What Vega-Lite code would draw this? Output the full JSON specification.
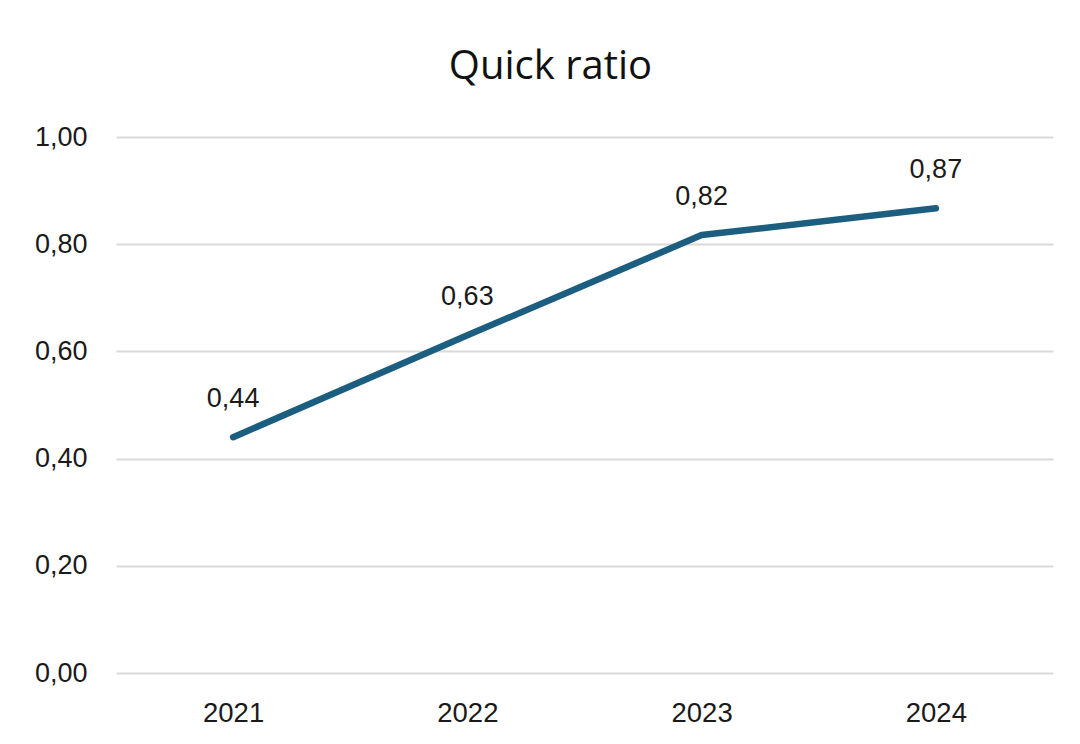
{
  "$schema": "https://vega.github.io/schema/vega-lite/v6.json",
  "autosize": "none",
  "width": 937,
  "height": 536,
  "padding": {"left": 116, "top": 137, "right": 27, "bottom": 71},
  "background": "white",
  "config": {
    "locale": {"number": {"decimal": ",", "thousands": ".", "grouping": [3], "currency": ["", " €"]}},
    "view": {"stroke": null},
    "font": "Liberation Sans"
  },
  "title": {
    "text": "Quick ratio",
    "font": "Open Sans",
    "fontSize": 40,
    "fontWeight": "normal",
    "color": "#111111",
    "anchor": "middle",
    "dx": -34,
    "offset": 36
  },
  "data": {
    "values": [
      {"year": "2021", "value": 0.44},
      {"year": "2022", "value": 0.63},
      {"year": "2023", "value": 0.817},
      {"year": "2024", "value": 0.867}
    ]
  },
  "encoding": {
    "x": {
      "field": "year",
      "type": "nominal",
      "scale": {"paddingInner": 0, "paddingOuter": 0},
      "axis": {
        "title": null,
        "labelAngle": 0,
        "domain": false,
        "ticks": false,
        "grid": false,
        "labelFont": "Liberation Sans",
        "labelFontSize": 27.5,
        "labelColor": "#1a1a1a",
        "labelPadding": 26
      }
    },
    "y": {
      "field": "value",
      "type": "quantitative",
      "scale": {"domain": [0, 1], "nice": false},
      "axis": {
        "title": null,
        "values": [0, 0.2, 0.4, 0.6, 0.8, 1.0],
        "format": ".2f",
        "domain": false,
        "ticks": false,
        "grid": true,
        "gridColor": "#d9d9d9",
        "gridWidth": 2,
        "labelFont": "Liberation Sans",
        "labelFontSize": 27,
        "labelColor": "#1a1a1a",
        "labelPadding": 29
      }
    }
  },
  "layer": [
    {
      "mark": {"type": "line", "color": "#1b5e7f", "strokeWidth": 6.5, "strokeCap": "round", "strokeJoin": "round"}
    },
    {
      "mark": {"type": "text", "font": "Liberation Sans", "fontSize": 27, "color": "#1a1a1a", "baseline": "alphabetic", "dy": -30},
      "encoding": {
        "text": {"field": "value", "type": "quantitative", "format": ".2f"}
      }
    }
  ]
}
